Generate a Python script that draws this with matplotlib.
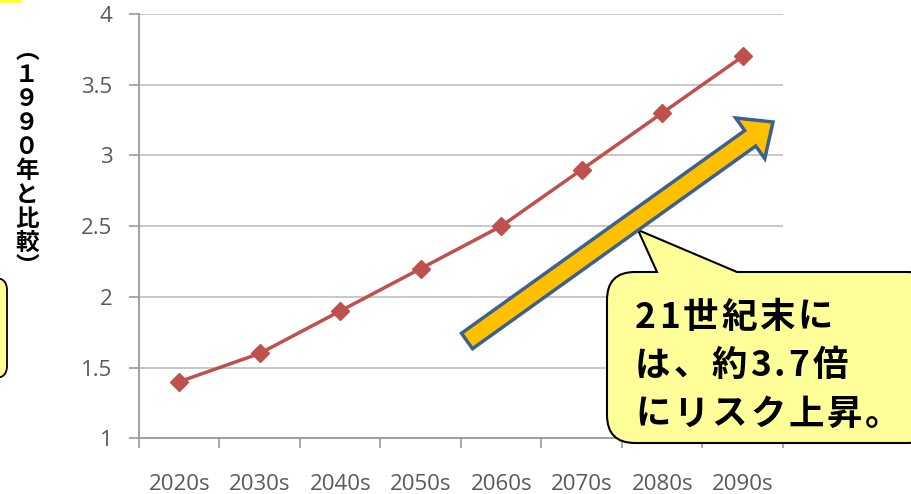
import matplotlib.pyplot as plt
import numpy as np
from matplotlib.patches import FancyArrow, PathPatch, FancyBboxPatch, Rectangle
from matplotlib.path import Path

# risk ratio against 1990, by decade
decades = ['2020s', '2030s', '2040s', '2050s', '2060s', '2070s', '2080s', '2090s']
ratio = [1.4, 1.6, 1.9, 2.2, 2.5, 2.9, 3.3, 3.7]
yticks = [1, 1.5, 2, 2.5, 3, 3.5, 4]
ylabel_chars = ['︵', '１', '９', '９', '０', '年', 'と', '比', '較', '︶']
callout_lines = ['21世紀末に', 'は、約3.7倍', 'にリスク上昇。']

jp = ['Noto Sans CJK JP', 'DejaVu Sans']
tick_grey = '#595959'
line_red = '#C0504D'

fig = plt.figure(figsize=(9.12, 4.94), dpi=100)
ax = fig.add_axes([139 / 912, 1 - 438.3 / 494, 644 / 912, 424.3 / 494])

x = np.arange(len(decades))
ax.plot(x, ratio, color=line_red, lw=2.5, marker='D', markersize=9.5,
        markeredgecolor=line_red, zorder=3)

ax.set_xlim(-0.5, len(decades) - 0.5)
ax.set_ylim(1, 4)
ax.set_yticks(yticks)
ax.set_yticklabels([('%g' % v) for v in yticks])
ax.yaxis.grid(True, color='#C4C4C4', lw=1.3)
ax.set_axisbelow(True)

# category boundaries carry the tick marks, labels sit in the middle
ax.set_xticks(np.arange(-0.5, len(decades)), minor=False)
ax.set_xticklabels([])
ax.set_xticks(x, minor=True)
ax.set_xticklabels(decades, minor=True)
ax.tick_params(axis='x', which='major', length=7, width=1.2, color='#9A9A9A', direction='out')
ax.tick_params(axis='x', which='minor', length=0, pad=25.5, labelsize=16, labelcolor=tick_grey)
ax.tick_params(axis='y', length=7, width=1.2, color='#9A9A9A', pad=12,
               labelsize=16, labelcolor=tick_grey)
for lab in ax.get_xticklabels(minor=True) + ax.get_yticklabels():
    lab.set_fontfamily('Open Sans')

for s in ['top', 'right']:
    ax.spines[s].set_visible(False)
for s in ['left', 'bottom']:
    ax.spines[s].set_color('#9A9A9A')
    ax.spines[s].set_linewidth(1.3)

# overlay in pixel units for the slide decorations
ov = fig.add_axes([0, 0, 1, 1])
ov.set_xlim(0, 912)
ov.set_ylim(494, 0)
ov.axis('off')
ov.patch.set_alpha(0)

# vertical axis caption, one character per row
for i, ch in enumerate(ylabel_chars):
    ov.text(27, 51 + i * 24, ch, ha='center', va='center', fontsize=17,
            fontweight='bold', family=jp)

# bits of neighbouring slide boxes cut off at the left edge
ov.add_patch(Rectangle((-5, -5), 27, 8, facecolor='#FFFF33', edgecolor='none'))
ov.add_patch(FancyBboxPatch((-40, 278), 47, 100, boxstyle='round,pad=0,rounding_size=12',
                            facecolor='#FFFF99', edgecolor='black', lw=1.3))

# speech bubble
x0, x1, y0, y1, r = 607, 935, 272, 443, 28
verts = [(x0 + r, y0), (657, y0), (638, 230), (737, y0), (x1 - r, y0),
         (x1, y0), (x1, y0 + r), (x1, y1 - r), (x1, y1), (x1 - r, y1),
         (x0 + r, y1), (x0, y1), (x0, y1 - r), (x0, y0 + r), (x0, y0), (x0 + r, y0),
         (x0 + r, y0)]
codes = [Path.MOVETO, Path.LINETO, Path.LINETO, Path.LINETO, Path.LINETO,
         Path.CURVE3, Path.CURVE3, Path.LINETO, Path.CURVE3, Path.CURVE3,
         Path.LINETO, Path.CURVE3, Path.CURVE3, Path.LINETO, Path.CURVE3, Path.CURVE3,
         Path.CLOSEPOLY]
ov.add_patch(PathPatch(Path(verts, codes), facecolor='#FFFF99', edgecolor='black', lw=1.5))

# bubble text, laid out char by char to get a little extra letter spacing
renderer = fig.canvas.get_renderer()
tracking = 3
for i, line in enumerate(callout_lines):
    cx = 635
    for ch in line:
        t = ov.text(cx, 317 + i * 48.5, ch, ha='left', va='center', fontsize=25.5,
                    fontweight='bold', family=jp)
        cx += t.get_window_extent(renderer).width + tracking

# rising arrow
ov.add_patch(FancyArrow(467, 341, 306, -219, width=19, head_width=50, head_length=28,
                        length_includes_head=True, facecolor='#FFC000',
                        edgecolor='#3C6090', lw=2.5, zorder=5))

fig.savefig('out.png', dpi=100)
